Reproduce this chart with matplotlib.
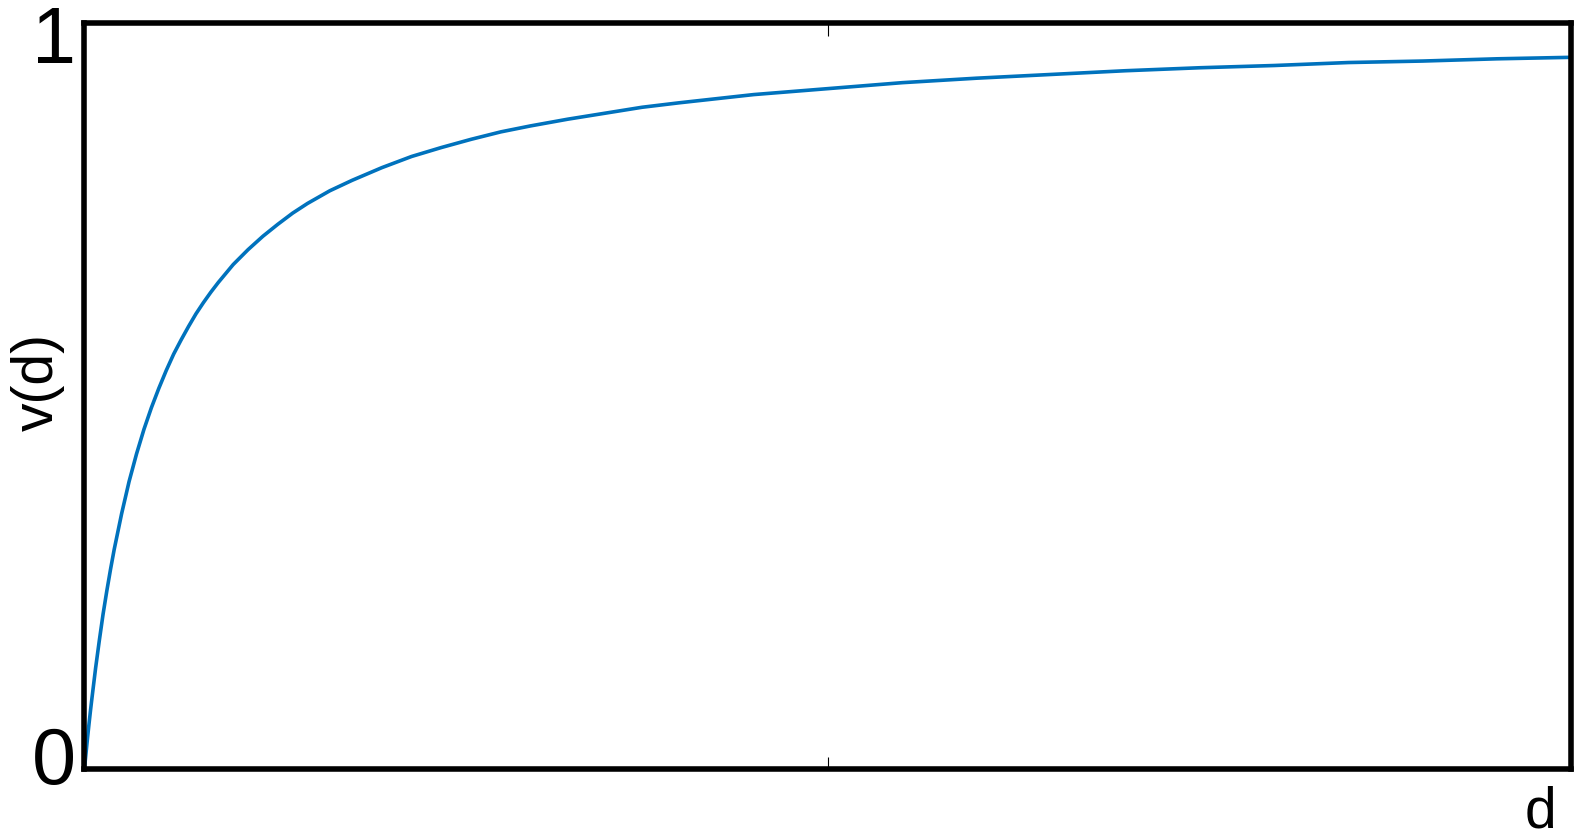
import matplotlib
matplotlib.use("Agg")
import matplotlib.pyplot as plt
import matplotlib.transforms as mtransforms

## Data (d scaled to 0..1)
d_vals = [0.0, 0.001, 0.002, 0.003, 0.004, 0.005, 0.0075, 0.01, 0.0125, 0.015,
          0.0175, 0.02, 0.025, 0.03, 0.035, 0.04, 0.045, 0.05, 0.055, 0.06,
          0.065, 0.07, 0.075, 0.08, 0.085, 0.09, 0.095, 0.10, 0.11, 0.12,
          0.13, 0.14, 0.15, 0.165, 0.18, 0.20, 0.22, 0.24, 0.26, 0.28,
          0.30, 0.325, 0.35, 0.375, 0.40, 0.45, 0.50, 0.55, 0.60, 0.65,
          0.70, 0.75, 0.80, 0.85, 0.90, 0.95, 1.00]
v_vals = [0.0, 0.020, 0.040, 0.059, 0.077, 0.094, 0.135, 0.172, 0.207, 0.238,
          0.267, 0.294, 0.342, 0.385, 0.422, 0.455, 0.484, 0.510, 0.534, 0.556,
          0.575, 0.593, 0.610, 0.625, 0.639, 0.652, 0.664, 0.676, 0.696, 0.714,
          0.730, 0.745, 0.758, 0.775, 0.789, 0.806, 0.821, 0.833, 0.844, 0.854,
          0.862, 0.871, 0.879, 0.887, 0.893, 0.904, 0.912, 0.920, 0.926, 0.931,
          0.936, 0.940, 0.943, 0.947, 0.949, 0.952, 0.954]

xticks = [0.5]
yticks = [0, 1]
ytick_labels = ["0", "1"]

plt.rcParams['font.family'] = ['Liberation Sans', 'DejaVu Sans']

fig = plt.figure(figsize = (15.76, 8.37), dpi = 100)
ax = fig.add_axes([0.0536, 0.0806, 0.9435, 0.8907])

ax.plot(d_vals, v_vals, color = "#0072BD", linewidth = 2.6, solid_joinstyle = "round")

ax.set_xlim(0, 1)
ax.set_ylim(0, 1)

for sp in ax.spines.values():
    sp.set_linewidth(4)
    sp.set_color("black")

ax.set_xticks(xticks)
ax.set_xticklabels([])
ax.tick_params(axis = 'x', direction = 'in', length = 9, width = 0.8, top = True, bottom = True)

ax.set_yticks(yticks)
ax.set_yticklabels(ytick_labels, fontsize = 57)
ax.tick_params(axis = 'y', length = 0, pad = 6)

# nudge tick labels like in the original (inches)
shifts = {"0": 0.15, "1": -0.095}
for lab in ax.get_yticklabels():
    dy = shifts.get(lab.get_text(), 0)
    lab.set_transform(lab.get_transform() + mtransforms.ScaledTranslation(0, dy, fig.dpi_scale_trans))

ax.set_xlabel("d", fontsize = 41)
ax.xaxis.label.set_va("baseline")
ax.xaxis.label.set_ha("center")
ax.xaxis.set_label_coords(0.979, -0.078)

ax.set_ylabel("v(d)", fontsize = 41, rotation = 90, rotation_mode = "anchor", ha = "center", va = "baseline")
ax.yaxis.set_label_coords(-0.0212, 0.52)

fig.savefig("out.png", dpi = 100)
